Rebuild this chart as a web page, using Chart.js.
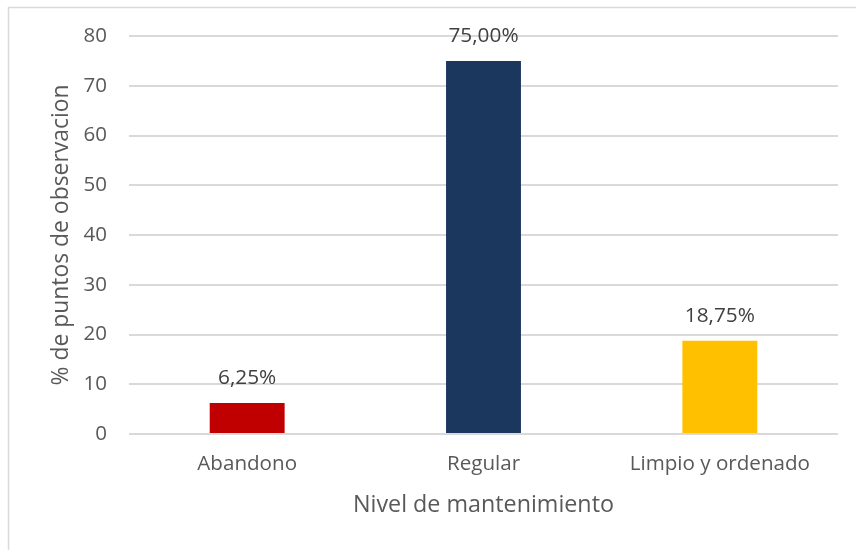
<!DOCTYPE html>
<html>
<head>
<meta charset="utf-8">
<script src="https://cdn.jsdelivr.net/npm/chart.js@4/dist/chart.umd.min.js"></script>
<style>
  html, body { margin: 0; padding: 0; background: #fff; }
  #wrap { width: 856px; height: 550px; }
</style>
</head>
<body>
<div id="wrap"><canvas id="chart" width="856" height="550"></canvas></div>
<script>
// data
const categories = ["Abandono", "Regular", "Limpio y ordenado"];
const values = [6.25, 75, 18.75];
const valueLabels = ["6,25%", "75,00%", "18,75%"];
const barColors = ["#C00000", "#1B375E", "#FFC000"];
const yMax = 80;
const yStep = 10;

const FONT = "'Open Sans', sans-serif";
const TEXT = "#595959";

// outer frame of the chart object (cropped on right / bottom)
const framePlugin = {
    id: 'frame',
    beforeDraw(chart) {
        const ctx = chart.ctx;
        ctx.save();
        ctx.fillStyle = '#fff';
        ctx.fillRect(0, 0, chart.width, chart.height);
        ctx.strokeStyle = '#d9d9d9';
        ctx.lineWidth = 1.5;
        ctx.strokeRect(8.5, 7.5, chart.width + 20, chart.height + 20);
        ctx.restore();
    }
};

// value labels above each bar
const labelPlugin = {
    id: 'barLabels',
    afterDatasetsDraw(chart) {
        const ctx = chart.ctx;
        const meta = chart.getDatasetMeta(0);
        ctx.save();
        ctx.font = "20.8px " + FONT;
        ctx.fillStyle = "#404040";
        ctx.textAlign = 'center';
        ctx.textBaseline = 'middle';
        meta.data.forEach(function (bar, i) {
            ctx.fillText(valueLabels[i], bar.x, bar.y - 25);
        });
        ctx.restore();
    }
};

new Chart(document.getElementById("chart"), {
    type: 'bar',
    data: {
        labels: categories,
        datasets: [{
            data: values,
            backgroundColor: barColors,
            barPercentage: 0.317,
            categoryPercentage: 1.0
        }]
    },
    options: {
        responsive: false,
        animation: false,
        layout: { padding: { left: 0, top: 36, right: 18, bottom: 0 } },
        plugins: {
            legend: { display: false },
            tooltip: { enabled: false }
        },
        scales: {
            x: {
                grid: { display: false, drawTicks: false },
                border: { display: false },
                ticks: { color: TEXT, font: { family: FONT, size: 20.6 }, padding: 18 },
                title: {
                    display: true,
                    text: "Nivel de mantenimiento",
                    color: TEXT,
                    font: { family: FONT, size: 23.3 },
                    padding: { top: 0, bottom: 31 }
                },
                afterFit(s) { s.height = 116; }
            },
            y: {
                min: 0,
                max: yMax,
                grid: { color: '#d9d9d9', lineWidth: 2, drawTicks: false },
                border: { display: false },
                ticks: { stepSize: yStep, color: TEXT, font: { family: FONT, size: 20.5 }, padding: 22 },
                title: {
                    display: true,
                    text: "% de puntos de observacion",
                    color: TEXT,
                    font: { family: FONT, size: 22.9 },
                    padding: { top: 48, bottom: 0 }
                },
                afterFit(s) { s.width = 129; }
            }
        }
    },
    plugins: [framePlugin, labelPlugin]
});
</script>
</body>
</html>
